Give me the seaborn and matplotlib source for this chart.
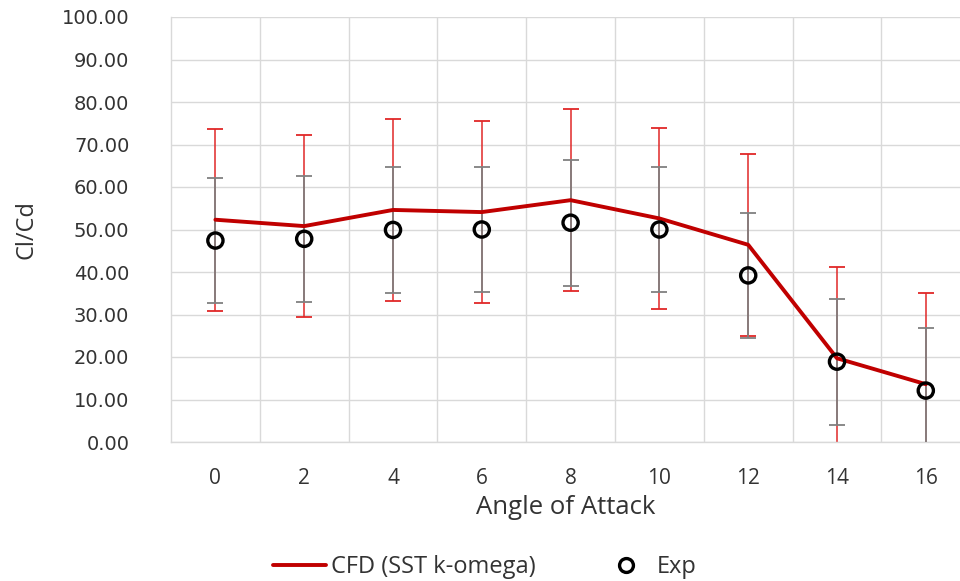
import matplotlib
matplotlib.use("Agg")
import matplotlib.pyplot as plt
import seaborn as sns
import pandas as pd
import numpy as np
from matplotlib.lines import Line2D
from matplotlib.ticker import FormatStrFormatter

angles = [0, 2, 4, 6, 8, 10, 12, 14, 16]
cfd = [52.3, 50.8, 54.6, 54.1, 56.9, 52.6, 46.4, 19.7, 13.6]
cfd_err = [21.4, 21.4, 21.4, 21.4, 21.4, 21.4, 21.4, 21.4, 21.4]
exp = [47.4, 47.8, 49.9, 50.0, 51.6, 50.0, 39.2, 18.9, 12.1]
exp_err = [14.8, 14.8, 14.8, 14.8, 14.8, 14.8, 14.8, 14.8, 14.8]
yticks = [0, 10, 20, 30, 40, 50, 60, 70, 80, 90, 100]

df = pd.DataFrame({"angle": angles, "cfd": cfd, "cfd_err": cfd_err,
                   "exp": exp, "exp_err": exp_err})

sns.set_theme(style="white")
plt.rcParams["font.family"] = ["DejaVu Sans"]

fig = plt.figure(figsize=(9.6, 5.81), dpi=100)
W, H = 960, 581
left, right, top, bottom = 171, 960, 17, 442
ax = fig.add_axes([left / W, 1 - bottom / H, (right - left) / W, (bottom - top) / H])

txt = "#333333"
grid_c = "#d9d9d9"

# error bars
ax.errorbar(df["angle"], df["cfd"], yerr=df["cfd_err"], fmt="none",
            ecolor="#e02828", elinewidth=1.1, capsize=5.5, capthick=1.3, zorder=2)
ax.errorbar(df["angle"], df["exp"], yerr=df["exp_err"], fmt="none",
            ecolor="#808080", elinewidth=1.3, capsize=5.5, capthick=1.3, zorder=3)

sns.lineplot(data=df, x="angle", y="cfd", ax=ax, color="#c00000", linewidth=2.8,
             zorder=4, legend=False)
sns.scatterplot(data=df, x="angle", y="exp", ax=ax, marker="o", s=120,
                facecolor="none", edgecolor="black", linewidth=2.4, zorder=5,
                legend=False)

ax.set_yticks(yticks)
ax.yaxis.set_major_formatter(FormatStrFormatter("%.2f"))
ax.set_xticks(angles)
ax.set_xticklabels([str(a) for a in angles])
ax.set_xticks(np.arange(1, 17, 2), minor=True)
ax.set_xlim(-1, -1 + (right - left) / 44.4)
ax.set_ylim(0, 100)
ax.grid(False)
ax.grid(True, which="minor", axis="x", color=grid_c, linewidth=1.0, zorder=0)
ax.grid(True, which="major", axis="y", color=grid_c, linewidth=1.0, zorder=0)
ax.set_axisbelow(True)

for s in ["top", "right"]:
    ax.spines[s].set_visible(False)
ax.spines["left"].set_color(grid_c)
ax.spines["bottom"].set_color(grid_c)
ax.spines["left"].set_linewidth(1.0)
ax.spines["bottom"].set_linewidth(1.0)

ax.tick_params(axis="both", which="both", length=0, labelcolor=txt)
ax.tick_params(axis="y", pad=30, labelsize=14)
ax.tick_params(axis="x", pad=19, labelsize=15)
for lab in ax.get_xticklabels():
    lab.set_family("Open Sans")

ax.set_ylabel("Cl/Cd", fontsize=17, color=txt, family="Open Sans")
ax.yaxis.set_label_coords((38 - left) / (right - left), 0.5)
ax.set_xlabel("Angle of Attack", fontsize=18.5, color=txt, family="Open Sans")
ax.xaxis.set_label_coords((566 - left) / (right - left), (bottom - 508) / (bottom - top))
ax.xaxis.label.set_va("center")

handles = [
    Line2D([0], [0], color="#c00000", linewidth=2.8),
    Line2D([0], [0], marker="o", linestyle="none", markersize=10,
           markerfacecolor="none", markeredgecolor="black", markeredgewidth=2.4),
]
fig.legend(handles, ["CFD (SST k-omega)", "Exp"], loc="center",
           bbox_to_anchor=(0.505, 1 - 567 / H), ncol=2, frameon=False,
           prop={"family": "Open Sans", "size": 17}, handlelength=2.25,
           columnspacing=2.7, handletextpad=0.2, labelcolor=txt)

fig.savefig("out.png", dpi=100)
